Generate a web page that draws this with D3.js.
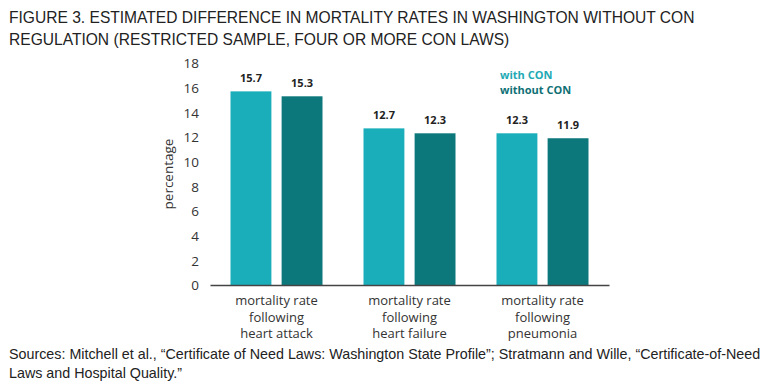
<!DOCTYPE html>
<html><head><meta charset="utf-8">
<script src="https://cdn.jsdelivr.net/npm/d3@7"></script>
<style>html,body{margin:0;padding:0;background:#fff;} svg{display:block;}</style>
</head><body>
<svg id="chart" width="768" height="392"></svg>
<script>
const categories = [
  ["mortality rate", "following", "heart attack"],
  ["mortality rate", "following", "heart failure"],
  ["mortality rate", "following", "pneumonia"]
];
const categoryKeys = ["heart attack", "heart failure", "pneumonia"];
const seriesNames = ["with CON", "without CON"];
const withCON = [15.7, 12.7, 12.3];
const withoutCON = [15.3, 12.3, 11.9];
const yTicks = [0, 2, 4, 6, 8, 10, 12, 14, 16, 18];
const colors = ["#1aaebb", "#0d787c"];
const legendColors = ["#22a9b5", "#0e7075"];
const titleLines = [
  "FIGURE 3. ESTIMATED DIFFERENCE IN MORTALITY RATES IN WASHINGTON WITHOUT CON",
  "REGULATION (RESTRICTED SAMPLE, FOUR OR MORE CON LAWS)"
];
const sourceLines = [
  "Sources: Mitchell et al., \u201cCertificate of Need Laws: Washington State Profile\u201d; Stratmann and Wille, \u201cCertificate-of-Need",
  "Laws and Hospital Quality.\u201d"
];

const seriesValues = [withCON, withoutCON];
const svg = d3.select("#chart");
const sans = "'Open Sans', Lato, 'DejaVu Sans', sans-serif";
const narrow = "'Liberation Sans Narrow', 'Liberation Sans', Arial, sans-serif";

function fitFont(sel, base, target) {
  sel.attr("font-size", base);
  const w = sel.node().getComputedTextLength();
  sel.attr("font-size", Math.min(base * 1.3, base * target / w));
}

// title
const tl = svg.append("g").selectAll("text").data(titleLines).join("text")
  .attr("x", 9).attr("y", (d, i) => 23 + i * 22)
  .attr("font-family", narrow).attr("fill", "#222")
  .text(d => d);
const titleNode = d3.select(tl.nodes()[0]);
fitFont(titleNode, 19, 686);
tl.attr("font-size", titleNode.attr("font-size"));

// sources
const sl = svg.append("g").selectAll("text").data(sourceLines).join("text")
  .attr("x", 9).attr("y", (d, i) => 359 + i * 19)
  .attr("font-family", narrow).attr("fill", "#222")
  .text(d => d);
const srcNode = d3.select(sl.nodes()[0]);
fitFont(srcNode, 15, 752);
sl.attr("font-size", srcNode.attr("font-size"));

const x0 = d3.scaleBand().domain(categoryKeys).range([210, 609]).padding(0);
const x1 = d3.scaleBand().domain(seriesNames).range([20.5, x0.bandwidth() - 20.5]).paddingInner(0.2);
const y = d3.scaleLinear().domain([0, 18]).range([285, 63]);

// y axis
const yAxis = svg.append("g").attr("transform", "translate(199,0)")
  .call(d3.axisLeft(y).tickValues(yTicks).tickSize(0).tickPadding(0));
yAxis.select(".domain").remove();
yAxis.selectAll("text").attr("font-family", sans).attr("font-size", 13.5).attr("fill", "#333").attr("dy", "0.36em");

svg.append("text")
  .attr("transform", `translate(173,174) rotate(-90)`)
  .attr("text-anchor", "middle")
  .attr("font-family", sans).attr("font-size", 13.5).attr("fill", "#333")
  .text("percentage");

// bars
const groups = svg.append("g").selectAll("g").data(categoryKeys).join("g")
  .attr("transform", d => `translate(${x0(d)},0)`);
groups.selectAll("rect").data((d, i) => seriesNames.map((s, j) => ({s, v: seriesValues[j][i], j})))
  .join("rect")
  .attr("x", d => x1(d.s)).attr("width", x1.bandwidth())
  .attr("y", d => y(d.v)).attr("height", d => y(0) - y(d.v))
  .attr("fill", d => colors[d.j]);
groups.selectAll("text.val").data((d, i) => seriesNames.map((s, j) => ({s, v: seriesValues[j][i], j})))
  .join("text").attr("class", "val")
  .attr("x", d => x1(d.s) + x1.bandwidth() / 2).attr("y", d => y(d.v) - 9)
  .attr("text-anchor", "middle")
  .attr("font-family", sans).attr("font-size", 11).attr("font-weight", "bold").attr("fill", "#222")
  .text(d => d.v.toFixed(1));

// x axis
const xAxis = svg.append("g").attr("transform", `translate(0,${y(0)})`)
  .call(d3.axisBottom(x0).tickSize(0).tickFormat(""));
xAxis.select(".domain").attr("stroke", "#444").attr("stroke-width", 1.5);

const labels = svg.append("g").selectAll("text").data(categoryKeys).join("text")
  .attr("x", d => x0(d) + x0.bandwidth() / 2)
  .attr("text-anchor", "middle")
  .attr("font-family", sans).attr("font-size", 13).attr("fill", "#333");
labels.each(function(d, i) {
  d3.select(this).selectAll("tspan").data(categories[i]).join("tspan")
    .attr("x", x0(d) + x0.bandwidth() / 2)
    .attr("y", (t, k) => 305 + k * 16.5)
    .text(t => t);
});

// legend
svg.append("g").selectAll("text").data(seriesNames).join("text")
  .attr("x", 500).attr("y", (d, i) => 79 + i * 15)
  .attr("font-family", sans).attr("font-size", 11).attr("font-weight", "bold")
  .attr("fill", (d, i) => legendColors[i])
  .text(d => d);
</script>
</body></html>
